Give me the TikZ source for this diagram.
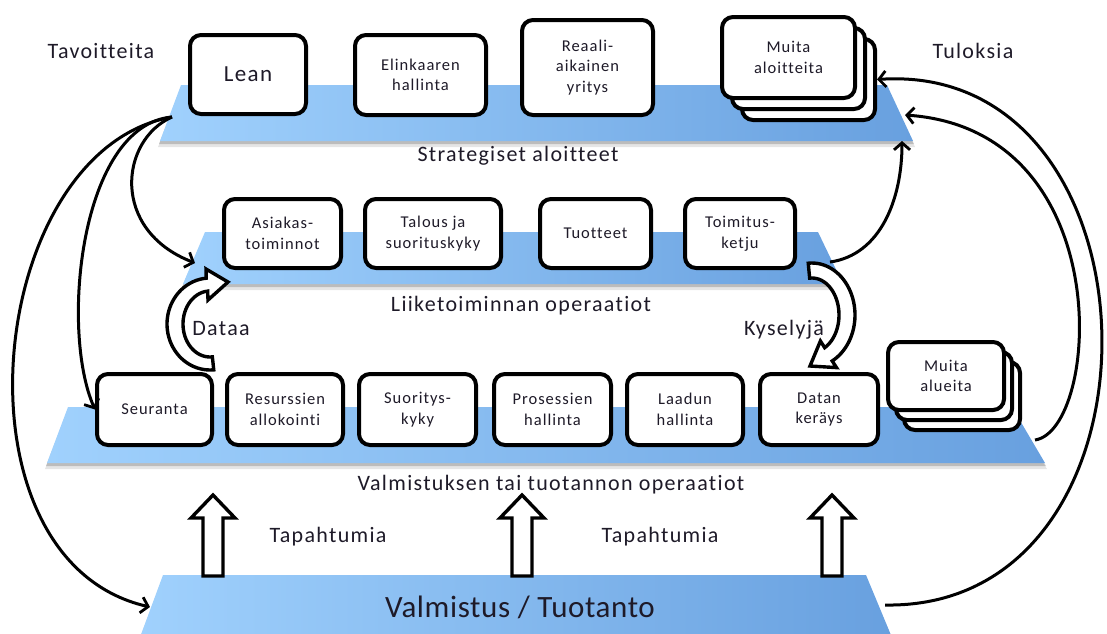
\documentclass[tikz,border=0pt]{standalone}
\usepackage{fontspec}
\setmainfont{Carlito}[LetterSpace=6,Ligatures=NoCommon]
\usetikzlibrary{arrows.meta}
\definecolor{txt}{RGB}{30,26,40}
\definecolor{platL}{RGB}{160,209,253}
\definecolor{platR}{RGB}{104,160,223}
\newcommand\bxfont{\fontsize{16.5}{20.5}\selectfont}
\newcommand\lblfont{\fontsize{22}{26}\selectfont}
\newcommand\leanfont{\fontsize{23}{27}\selectfont}
\newcommand\hgfont{\addfontfeatures{LetterSpace=2}\fontsize{31}{36}\selectfont}
% sloped platform: x top-left, x top-right, x bottom-right, x bottom-left, y top, y bottom
\newcommand\platdraw[6]{%
  \fill[black,opacity=.10] (#1,#5+5) -- (#2,#5+5) -- (#3+2,#6+6) -- (#4-2,#6+6) -- cycle;
  \fill[black,opacity=.18] (#1,#5+2) -- (#2,#5+2) -- (#3+1,#6+3) -- (#4-1,#6+3) -- cycle;
  \shade[left color=platL,right color=platR] (#1,#5) -- (#2,#5) -- (#3,#6) -- (#4,#6) -- cycle;}
\begin{document}
\begin{tikzpicture}[x=1pt,y=-1pt,
  box/.style={draw=black,line width=4pt,rounded corners=11pt,fill=white,align=center,inner sep=1pt,font=\bxfont,text=txt},
  lbl/.style={font=\lblfont,text=txt,inner sep=0pt,anchor=base},
  conn/.style={line width=3pt,-{Straight Barb[length=7pt,width=16pt,line width=2.8pt]}},
  hollow/.style={draw=black,line width=3.4pt,fill=white,line join=miter}]
\useasboundingbox (0,0) rectangle (1107,633);
\clip (0,0) rectangle (1107,633);

% platforms
\platdraw{181}{887}{913}{160}{85}{141}
\platdraw{205}{818}{843}{183}{232}{284}
\platdraw{68}{1012}{1045}{47}{407}{463}
\platdraw{163}{866}{893}{139}{575}{640}

% strategic initiatives
\node[box,minimum width=116pt,minimum height=79pt] (lean) at (248,74.5) {\leanfont Lean};
\node[box,minimum width=131pt,minimum height=80pt] (elink) at (420.5,75) {Elinkaaren\\hallinta};
\node[box,minimum width=131pt,minimum height=95pt] (reaali) at (587.5,67.5) {Reaali-\\aikainen\\yritys};
\node[box,minimum width=133pt,minimum height=81pt] (muitaA3) at (808.5,79.5) {};
\node[box,minimum width=133pt,minimum height=81pt] (muitaA2) at (798.5,68.5) {};
\node[box,minimum width=133pt,minimum height=81pt] (muitaA1) at (788.5,57.5) {Muita\\aloitteita};

% business operations
\node[box,minimum width=117pt,minimum height=69pt] (asiakas) at (282.5,233.5) {Asiakas-\\toiminnot};
\node[box,minimum width=136pt,minimum height=69pt] (talous) at (433,233.5) {Talous ja\\suorituskyky};
\node[box,minimum width=111pt,minimum height=69pt] (tuotteet) at (595.5,233.5) {Tuotteet};
\node[box,minimum width=110pt,minimum height=69pt] (toimitus) at (740,233.5) {Toimitus-\\ketju};

% manufacturing operations
\node[box,minimum width=115pt,minimum height=71pt] (seuranta) at (154.5,409.5) {Seuranta};
\node[box,minimum width=116pt,minimum height=71pt] (resurssit) at (285,409.5) {Resurssien\\allokointi};
\node[box,minimum width=117pt,minimum height=71pt] (suoritys) at (417.5,409.5) {Suoritys-\\kyky};
\node[box,minimum width=117pt,minimum height=71pt] (prosessit) at (552.5,409.5) {Prosessien\\hallinta};
\node[box,minimum width=116pt,minimum height=71pt] (laatu) at (685,409.5) {Laadun\\hallinta};
\node[box,minimum width=118pt,minimum height=71pt] (datan) at (819,409.5) {Datan\\keräys};
\node[box,minimum width=116pt,minimum height=68pt] (muitaB3) at (962,396) {};
\node[box,minimum width=116pt,minimum height=68pt] (muitaB2) at (954,386) {};
\node[box,minimum width=116pt,minimum height=68pt] (muitaB1) at (946,376) {Muita\\alueita};

% connector end points on the platforms
\coordinate (p1w) at (172,117);
\coordinate (p1s) at (902,141);
\coordinate (p1e) at (905,115);
\coordinate (p2w) at (195,263);
\coordinate (p2e) at (830,262);
\coordinate (p3e) at (1035,440);
\coordinate (p4w) at (150,607);
\coordinate (p4e) at (885,605);

% goals and results loops
\draw[conn] (p1w) .. controls (120,140) and (110,230) .. (p2w);
\draw[conn] (p1w) .. controls (80,125) and (60,330) .. (seuranta.west);
\draw[conn] (p1w) .. controls (-15,150) and (-55,560) .. (p4w);
\draw[conn] (p2e) .. controls (880,255) and (902,200) .. (p1s);
\draw[conn] (p3e) .. controls (1100,430) and (1120,130) .. (p1e);
\draw[conn] (p4e) .. controls (1180,610) and (1170,60) .. (muitaA3.east);

% curved hollow arrows between the operation levels
\draw[hollow] plot[domain=85:265,samples=40] ({210+43*cos(\x)},{324+46*sin(\x)})
  -- (206,269) -- (228,282) -- (208,300)
  -- plot[domain=265:85,samples=40] ({210+27*cos(\x)},{324+33*sin(\x)}) -- cycle;
\draw[hollow] plot[domain=-95:62,samples=40] ({812+43*cos(\x)},{315+52*sin(\x)})
  -- (836.5,367.6) -- (810,366) -- (820.4,341)
  -- plot[domain=62:-95,samples=40] ({812+27*cos(\x)},{315+37*sin(\x)}) -- cycle;

% event arrows from production
\foreach \cx in {213,522,832}{
  \draw[hollow] (\cx-10,576) -- (\cx-10,518) -- (\cx-22,518) -- (\cx,495)
    -- (\cx+22,518) -- (\cx+10,518) -- (\cx+10,576) -- cycle;}

% labels
\node[lbl] (tav) at (101,58) {Tavoitteita};
\node[lbl] (tul) at (973,58) {Tuloksia};
\node[lbl] (strat) at (518,161) {Strategiset aloitteet};
\node[lbl] (liike) at (521,311) {Liiketoiminnan operaatiot};
\node[lbl] (valmop) at (551,490) {Valmistuksen tai tuotannon operaatiot};
\node[lbl] (dataa) at (221,335) {Dataa};
\node[lbl] (kysely) at (784,335) {Kyselyjä};
\node[lbl] (tap1) at (328,542) {Tapahtumia};
\node[lbl] (tap2) at (660,542) {Tapahtumia};
\node[lbl,font=\hgfont] (valm) at (520,617) {Valmistus / Tuotanto};
\end{tikzpicture}
\end{document}
